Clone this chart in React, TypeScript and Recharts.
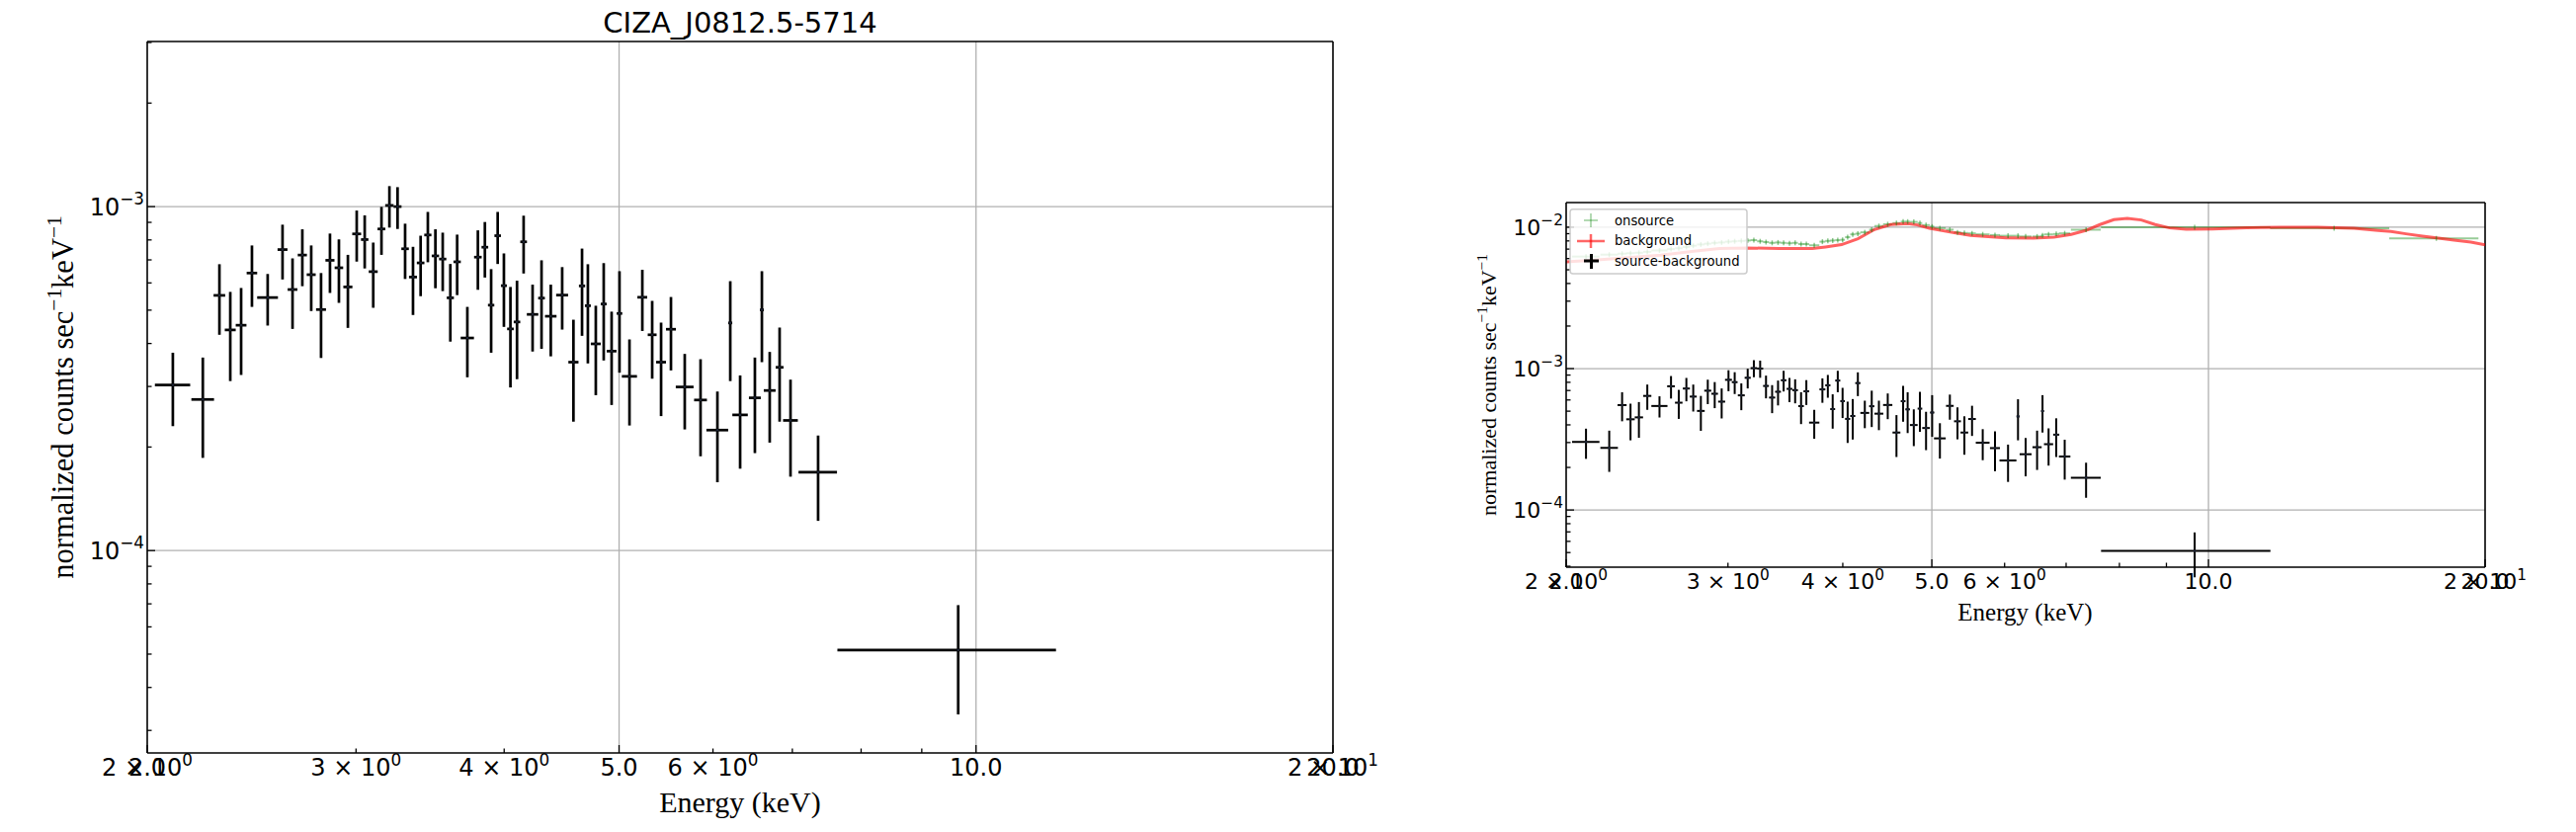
import { ComposedChart, Scatter, Line, XAxis, YAxis, ErrorBar, ReferenceLine } from "recharts";

// source - background spectrum, one entry per energy bin
const binEnergy = [
  2.102, 2.228, 2.301, 2.35, 2.4, 2.451, 2.527, 2.601, 2.652, 2.703,
  2.75, 2.803, 2.852, 2.902, 2.953, 3.004, 3.051, 3.102, 3.152, 3.201,
  3.252, 3.3, 3.351, 3.401, 3.449, 3.5, 3.55, 3.603, 3.651, 3.724,
  3.801, 3.853, 3.9, 3.95, 3.998, 4.049, 4.101, 4.154, 4.227, 4.301,
  4.379, 4.477, 4.576, 4.653, 4.706, 4.779, 4.853, 4.928, 5.004, 5.102,
  5.231, 5.332, 5.425, 5.53, 5.68, 5.857, 6.052, 6.205, 6.325, 6.509,
  6.598, 6.699, 6.829, 6.975, 7.359, 9.66,
];
const binHalfWidth = [
  0.072, 0.049, 0.026, 0.025, 0.025, 0.025, 0.051, 0.025, 0.025, 0.024,
  0.024, 0.027, 0.025, 0.024, 0.026, 0.026, 0.022, 0.027, 0.024, 0.026,
  0.025, 0.024, 0.026, 0.025, 0.024, 0.025, 0.025, 0.025, 0.026, 0.048,
  0.028, 0.025, 0.024, 0.025, 0.023, 0.026, 0.026, 0.027, 0.047, 0.028,
  0.049, 0.052, 0.045, 0.028, 0.027, 0.046, 0.028, 0.047, 0.027, 0.075,
  0.05, 0.046, 0.052, 0.053, 0.098, 0.073, 0.128, 0.024, 0.095, 0.075,
  0.025, 0.077, 0.052, 0.1, 0.275, 2.02,
];
// counts / s / keV, in units of 1e-3
const netRate = [
  0.303, 0.275, 0.552, 0.438, 0.452, 0.641, 0.544, 0.75, 0.574, 0.723,
  0.634, 0.502, 0.698, 0.664, 0.584, 0.833, 0.802, 0.647, 0.861, 1.008,
  1.0, 0.754, 0.624, 0.686, 0.827, 0.719, 0.704, 0.543, 0.691, 0.415,
  0.713, 0.762, 0.517, 0.823, 0.589, 0.441, 0.462, 0.79, 0.486, 0.542,
  0.48, 0.553, 0.353, 0.588, 0.515, 0.399, 0.521, 0.38, 0.489, 0.321,
  0.545, 0.424, 0.353, 0.44, 0.299, 0.274, 0.224, 0.459, 0.248, 0.278,
  0.501, 0.292, 0.341, 0.239, 0.169, 0.0514,
];
const netErr = [
  0.073, 0.089, 0.128, 0.127, 0.128, 0.13, 0.093, 0.136, 0.133, 0.136,
  0.137, 0.139, 0.137, 0.139, 0.14, 0.141, 0.141, 0.139, 0.137, 0.139,
  0.139, 0.138, 0.14, 0.137, 0.138, 0.14, 0.136, 0.138, 0.138, 0.096,
  0.14, 0.14, 0.141, 0.142, 0.142, 0.143, 0.147, 0.151, 0.107, 0.156,
  0.113, 0.114, 0.116, 0.167, 0.165, 0.116, 0.164, 0.115, 0.16, 0.09,
  0.11, 0.108, 0.107, 0.106, 0.074, 0.086, 0.066, 0.148, 0.075, 0.086,
  0.148, 0.086, 0.104, 0.075, 0.047, 0.018,
];

// onsource: same bins plus two wide bins above 11.7 keV (units of 1e-3)
const onExtraEnergy = [13.7, 17.7];
const onExtraHalfWidth = [2.03, 1.97];
const onRate = [
  6.2, 6.4, 6.5, 6.55, 6.6, 6.7, 6.85, 7.0, 7.1, 7.25,
  7.4, 7.55, 7.65, 7.75, 7.8, 7.9, 7.95, 8.0, 8.05, 8.1,
  7.95, 7.85, 7.75, 7.8, 7.75, 7.7, 7.75, 7.6, 7.6, 7.45,
  7.9, 8.0, 8.05, 8.1, 8.15, 8.5, 8.9, 9.0, 9.2, 9.6,
  10.2, 10.5, 10.7, 10.95, 10.95, 10.9, 10.7, 10.35, 10.1, 9.85,
  9.6, 9.2, 9.1, 9.05, 8.9, 8.8, 8.7, 8.7, 8.6, 8.6,
  8.75, 8.9, 8.95, 9.05, 9.6, 10.0, 9.85, 8.34,
];

// background (units of 1e-3)
const bgEnergy = [
  2.0, 2.146, 2.333, 2.534, 2.753, 2.937, 3.138, 3.411, 3.705, 3.83,
  3.988, 4.155, 4.331, 4.51, 4.706, 4.82, 4.97, 5.29, 5.51, 6.02,
  6.45, 6.79, 7.09, 7.35, 7.62, 7.89, 8.16, 8.45, 8.75, 9.07,
  9.46, 10.1, 11.0, 11.98, 13.14, 14.4, 15.3, 15.8, 16.4, 17.1,
  17.8, 18.5, 19.3, 20.0,
];
const bgRate = [
  5.7, 5.85, 6.08, 6.34, 6.76, 7.06, 7.14, 7.06, 7.06, 7.25,
  7.53, 8.29, 9.63, 10.45, 10.6, 10.38, 9.84, 9.13, 8.75, 8.42,
  8.38, 8.52, 8.89, 9.48, 10.44, 11.31, 11.56, 11.25, 10.44, 9.89,
  9.68, 9.73, 9.9, 10.0, 10.0, 9.84, 9.48, 9.33, 8.98, 8.65,
  8.38, 8.11, 7.86, 7.52,
];

// axes
const xDomain = [2, 20];
const xMajorTicks = [2, 5, 10, 20];
const xMinorTicks = [3, 4, 6, 7, 8, 9];
const xSciLabels: [number, string, string][] = [
  [2, "2", "0"], [3, "3", "0"], [4, "4", "0"], [6, "6", "0"], [20, "2", "1"],
];
const xPlainLabels: [number, string][] = [[2, "2.0"], [5, "5.0"], [10, "10.0"], [20, "20.0"]];
const xGrid = [5, 10];
const yDecadeLabels: [number, string][] = [[1e-2, "−2"], [1e-3, "−3"], [1e-4, "−4"]];
const leftYDomain = [2.58e-5, 3.02e-3];
const rightYDomain = [3.94e-5, 1.494e-2];
const leftYMinor = [3e-5, 4e-5, 5e-5, 6e-5, 7e-5, 8e-5, 9e-5, 2e-4, 3e-4, 4e-4, 5e-4, 6e-4, 7e-4, 8e-4, 9e-4, 2e-3, 3e-3];
const rightYMinor = [
  4e-5, 5e-5, 6e-5, 7e-5, 8e-5, 9e-5, 2e-4, 3e-4, 4e-4, 5e-4, 6e-4, 7e-4, 8e-4, 9e-4,
  2e-3, 3e-3, 4e-3, 5e-3, 6e-3, 7e-3, 8e-3, 9e-3,
];
const legendLabels = ["onsource", "background", "source-background"];

const netData = binEnergy.map((E, i) => ({
  E,
  xerr: binHalfWidth[i],
  y: netRate[i] * 1e-3,
  yerr: netErr[i] * 1e-3,
}));
const onData = [...binEnergy, ...onExtraEnergy].map((E, i) => ({
  E,
  xerr: [...binHalfWidth, ...onExtraHalfWidth][i],
  y: onRate[i] * 1e-3,
}));
const bgData = bgEnergy.map((E, i) => ({ E, y: bgRate[i] * 1e-3 }));

const SANS = "DejaVu Sans";
const SERIF = "Liberation Serif";

function XTick(props: any) {
  const { x, y, payload, fs, labelDy } = props;
  const v = payload.value;
  const major = xMajorTicks.includes(v);
  const sci = xSciLabels.find((l) => l[0] === v);
  const plain = xPlainLabels.find((l) => l[0] === v);
  return (
    <g>
      <line x1={x} x2={x} y1={y} y2={y - (major ? 8 : 4.5)} stroke="#000" strokeWidth={1.3} />
      {sci && (
        <text x={x} y={y + labelDy} textAnchor="middle" fontSize={fs} fontFamily={SANS} fill="#000">
          {sci[1]} × 10
          <tspan dy={-fs * 0.42} fontSize={fs * 0.7}>{sci[2]}</tspan>
        </text>
      )}
      {plain && (
        <text x={x} y={y + labelDy} textAnchor="middle" fontSize={fs} fontFamily={SANS} fill="#000">
          {plain[1]}
        </text>
      )}
    </g>
  );
}

function YTick(props: any) {
  const { x, y, payload, fs } = props;
  const v = payload.value;
  const dec = yDecadeLabels.find((l) => l[0] === v);
  return (
    <g>
      <line x1={x} x2={x + (dec ? 8 : 4.5)} y1={y} y2={y} stroke="#000" strokeWidth={1.3} />
      {dec && (
        <text x={x - 3} y={y + fs * 0.36} textAnchor="end" fontSize={fs} fontFamily={SANS} fill="#000">
          10
          <tspan dy={-fs * 0.45} fontSize={fs * 0.7}>{dec[1]}</tspan>
        </text>
      )}
    </g>
  );
}

function CrossDot(props: any) {
  const { cx, cy } = props;
  return <circle cx={cx} cy={cy} r={1.3} fill="#1c2333" />;
}

function GreenPlus(props: any) {
  const { cx, cy } = props;
  return <line x1={cx} x2={cx} y1={cy - 2.5} y2={cy + 2.5} stroke="#008000" strokeOpacity={0.45} strokeWidth={1.5} />;
}

function SpectrumPanel(props: any) {
  const { width, height, margin, yDomain, yMinor, yMajor, fs, labelDy, errWidth, full } = props;
  return (
    <ComposedChart width={width} height={height} margin={margin}>
      <XAxis
        dataKey="E"
        type="number"
        scale="log"
        domain={xDomain}
        allowDataOverflow
        ticks={[...xMajorTicks, ...xMinorTicks]}
        interval={0}
        tickSize={0}
        tickMargin={0}
        tickLine={false}
        height={40}
        axisLine={{ stroke: "#000", strokeWidth: 1.6 }}
        tick={<XTick fs={fs} labelDy={labelDy} />}
      />
      <YAxis
        dataKey="y"
        type="number"
        scale="log"
        domain={yDomain}
        allowDataOverflow
        ticks={[...yMajor, ...yMinor]}
        interval={0}
        tickSize={0}
        tickMargin={0}
        tickLine={false}
        width={80}
        axisLine={{ stroke: "#000", strokeWidth: 1.6 }}
        tick={<YTick fs={fs} />}
      />
      {xGrid.map((v) => (
        <ReferenceLine key={"gx" + v} x={v} stroke="#b0b0b0" strokeWidth={1.3} />
      ))}
      {yMajor.map((v: number) => (
        <ReferenceLine key={"gy" + v} y={v} stroke="#b0b0b0" strokeWidth={1.3} />
      ))}
      <ReferenceLine x={xDomain[1]} stroke="#000" strokeWidth={1.6} />
      <ReferenceLine y={yDomain[1]} stroke="#000" strokeWidth={1.6} />
      {full && (
        <Scatter data={onData} dataKey="y" shape={<GreenPlus />} isAnimationActive={false}>
          <ErrorBar dataKey="xerr" direction="x" width={0} stroke="#008000" strokeOpacity={0.4} strokeWidth={2} isAnimationActive={false} />
        </Scatter>
      )}
      {full && (
        <Line
          data={bgData}
          dataKey="y"
          type="linear"
          dot={false}
          stroke="#ff0000"
          strokeOpacity={0.62}
          strokeWidth={3}
          isAnimationActive={false}
        />
      )}
      <Scatter data={netData} dataKey="y" shape={<CrossDot />} isAnimationActive={false}>
        <ErrorBar dataKey="xerr" direction="x" width={0} stroke="#000" strokeWidth={errWidth} isAnimationActive={false} />
        <ErrorBar dataKey="yerr" direction="y" width={0} stroke="#000" strokeWidth={errWidth} isAnimationActive={false} />
      </Scatter>
    </ComposedChart>
  );
}

const sup = (fs: number) => ({ fontSize: fs * 0.7 });

export default function App() {
  return (
    <div style={{ position: "absolute", left: 0, top: 0, width: 2607, height: 842, background: "#fff", overflow: "hidden" }}>
      <div style={{ position: "absolute", left: 0, top: 0 }}>
        <SpectrumPanel
          width={1400}
          height={842}
          margin={{ top: 42, right: 51, bottom: 40, left: 69 }}
          yDomain={leftYDomain}
          yMinor={leftYMinor}
          yMajor={[1e-4, 1e-3]}
          fs={24}
          labelDy={23}
          errWidth={2.7}
          full={false}
        />
      </div>
      <div style={{ position: "absolute", left: 1450, top: 0 }}>
        <SpectrumPanel
          width={1157}
          height={842}
          margin={{ top: 205, right: 92, bottom: 228, left: 55 }}
          yDomain={rightYDomain}
          yMinor={rightYMinor}
          yMajor={[1e-4, 1e-3, 1e-2]}
          fs={22}
          labelDy={22}
          errWidth={2}
          full={true}
        />
      </div>
      <svg width={2607} height={842} style={{ position: "absolute", left: 0, top: 0, pointerEvents: "none" }}>
        <text x={749} y={33} textAnchor="middle" fontSize={29} fontFamily={SANS} fill="#000">
          CIZA_J0812.5-5714
        </text>
        <text x={749} y={822} textAnchor="middle" fontSize={30} fontFamily={SERIF} fill="#000">
          Energy (keV)
        </text>
        <text transform="translate(74,402) rotate(-90)" textAnchor="middle" fontSize={30.5} fontFamily={SERIF} fill="#000">
          normalized counts sec
          <tspan dy={-12} style={sup(30.5)}>−1</tspan>
          <tspan dy={12}>keV</tspan>
          <tspan dy={-12} style={sup(30.5)}>−1</tspan>
        </text>
        <text x={2049.5} y={628} textAnchor="middle" fontSize={25} fontFamily={SERIF} fill="#000">
          Energy (keV)
        </text>
        <text transform="translate(1514,389.5) rotate(-90)" textAnchor="middle" fontSize={22} fontFamily={SERIF} fill="#000">
          normalized counts sec
          <tspan dy={-9} style={sup(22)}>−1</tspan>
          <tspan dy={9}>keV</tspan>
          <tspan dy={-9} style={sup(22)}>−1</tspan>
        </text>
        <g>
          <rect x={1589} y={211.7} width={179} height={65.3} rx={3} fill="#fff" fillOpacity={0.8} stroke="#cccccc" strokeWidth={1.5} />
          <line x1={1603} x2={1617} y1={223} y2={223} stroke="#008000" strokeOpacity={0.4} strokeWidth={1.5} />
          <line x1={1610} x2={1610} y1={216} y2={230} stroke="#008000" strokeOpacity={0.4} strokeWidth={1.5} />
          <line x1={1596} x2={1624} y1={244} y2={244} stroke="#ff0000" strokeOpacity={0.6} strokeWidth={2.5} />
          <line x1={1610} x2={1610} y1={237} y2={251} stroke="#ff0000" strokeOpacity={0.6} strokeWidth={2.5} />
          <line x1={1603} x2={1618} y1={264} y2={264} stroke="#000" strokeWidth={3} />
          <line x1={1610.5} x2={1610.5} y1={257} y2={272} stroke="#000" strokeWidth={3} />
          {legendLabels.map((t, i) => (
            <text key={t} x={1634} y={223 + i * 20.5 + 4.7} fontSize={13.2} fontFamily={SANS} fill="#000">
              {t}
            </text>
          ))}
        </g>
      </svg>
    </div>
  );
}
